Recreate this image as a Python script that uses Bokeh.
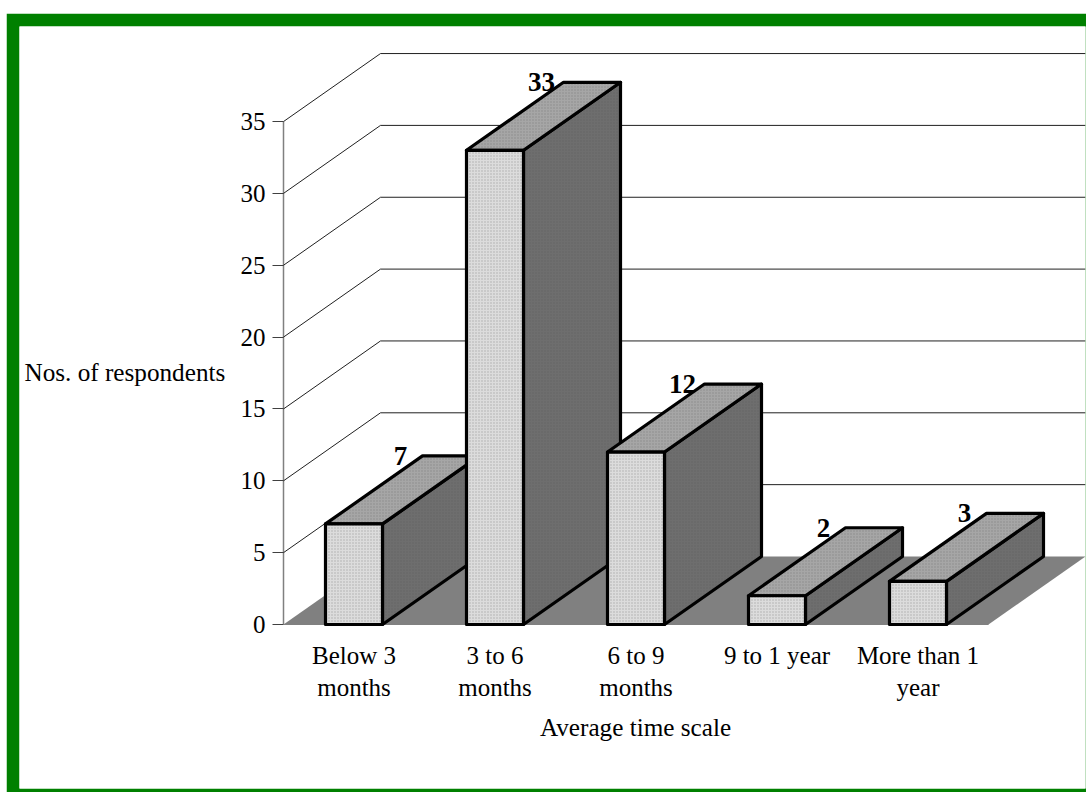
from bokeh.embed import file_html
from bokeh.resources import INLINE
from bokeh.plotting import figure
from bokeh.models import LinearAxis, FixedTicker, Label, ColumnDataSource, Range1d
from bokeh.core.properties import value

categories = ["Below 3\nmonths", "3 to 6\nmonths", "6 to 9\nmonths", "9 to 1 year", "More than 1\nyear"]
counts = [7, 33, 12, 2, 3]
y_ticks = [0, 5, 10, 15, 20, 25, 30, 35]
x_title = "Average time scale"
y_title = "Nos. of respondents"

FONT = "Liberation Serif"
GREEN = "#008000"
FRONT, TOP, SIDE = "#dcdcdc", "#a6a6a6", "#6e6e6e"

# figure geometry
W, H = 1080, 779
L, R, T, B = 13, 1, 13, 4
fw, fh = W - L - R, H - T - B
x0_px, y0_px = 283 - 19, 624 - 26     # data origin inside the frame
ux, uy = 141.0, 14.37                 # px per unit
dx, dy = 97 / ux, 68 / uy             # oblique depth in data units
bar_w = 57 / ux
n = len(categories)
y_max = max(y_ticks)

p = figure(width=W, height=H, output_backend="svg", toolbar_location=None,
           x_range=Range1d(-x0_px / ux, (fw - x0_px) / ux),
           y_range=Range1d(-(fh - y0_px) / uy, y0_px / uy),
           x_axis_type=None, y_axis_type=None,
           min_border_left=L, min_border_right=R, min_border_top=T, min_border_bottom=B,
           border_fill_color=GREEN, background_fill_color="white", outline_line_color=None,
           margin=(13, 0, 0, 6))
p.grid.visible = False
xmax_view = (fw - x0_px) / ux

# floor
p.patch([0, dx, n + dx, n], [0, dy, dy, 0], fill_color="#808080", line_color=None)

# walls' gridlines
gx = [[0, dx, xmax_view] for v in y_ticks[1:]]
gy = [[v, v + dy, v + dy] for v in y_ticks[1:]]
p.multi_line(gx, gy, line_color="#202020", line_width=1)

# axes
yax = LinearAxis(ticker=FixedTicker(ticks=y_ticks), fixed_location=0, bounds=(0, y_max))
yax.axis_line_color = "#808080"
yax.axis_line_width = 1.5
yax.major_tick_line_color = "#404040"
yax.major_tick_in = 0
yax.major_tick_out = 11
yax.minor_tick_line_color = None
yax.major_label_text_font = FONT
yax.major_label_text_font_size = "25px"
yax.major_label_text_color = "black"
yax.major_label_standoff = 7
yax.level = "underlay"
p.add_layout(yax, "left")

xt = [i + 0.5 for i in range(n)]
xax = LinearAxis(ticker=FixedTicker(ticks=xt), fixed_location=0, bounds=(0, n))
xax.major_label_overrides = {t: c for t, c in zip(xt, categories)}
xax.axis_line_color = "#808080"
xax.major_tick_line_color = None
xax.major_tick_in = 0
xax.major_tick_out = 0
xax.minor_tick_line_color = None
xax.major_label_text_font = FONT
xax.major_label_text_font_size = "25px"
xax.major_label_text_color = "black"
xax.major_label_standoff = 17
xax.level = "underlay"
p.add_layout(xax, "below")

# value labels sit behind the bars
lx = [i + 0.5 + 46.5 / ux for i in range(n)]
ly = [v + dy for v in counts]
p.text(lx, ly, text=[str(v) for v in counts], text_font=value(FONT), text_font_style="bold",
       text_font_size="27px", text_color="black", text_align="center", text_baseline="middle")

# bars: side, top, front, left to right
faces_x, faces_y, colors = [], [], []
for i, v in enumerate(counts):
    a = i + 0.5 - bar_w / 2
    b = a + bar_w
    faces_x += [[b, b + dx, b + dx, b], [a, b, b + dx, a + dx], [a, b, b, a]]
    faces_y += [[0, dy, v + dy, v], [v, v, v + dy, v + dy], [0, 0, v, v]]
    colors += [SIDE, TOP, FRONT]
src = ColumnDataSource(dict(xs=faces_x, ys=faces_y, c=colors))
p.patches("xs", "ys", source=src, fill_color="c", line_color="black", line_width=3.2,
          line_join="round", hatch_pattern="dot", hatch_color="#555555", hatch_scale=3, hatch_alpha=0.35)

# titles
for text, px, py in [(y_title, 24 - 19, 372 - 26), (x_title, 635 - 19, 727 - 26)]:
    p.add_layout(Label(x=px, y=fh - py, x_units="screen", y_units="screen", text=text,
                       text_font=FONT, text_font_size="25.2px", text_color="black",
                       text_baseline="middle", text_align="left" if px < 100 else "center"))

open("out.html", "w").write(file_html(p, INLINE))
